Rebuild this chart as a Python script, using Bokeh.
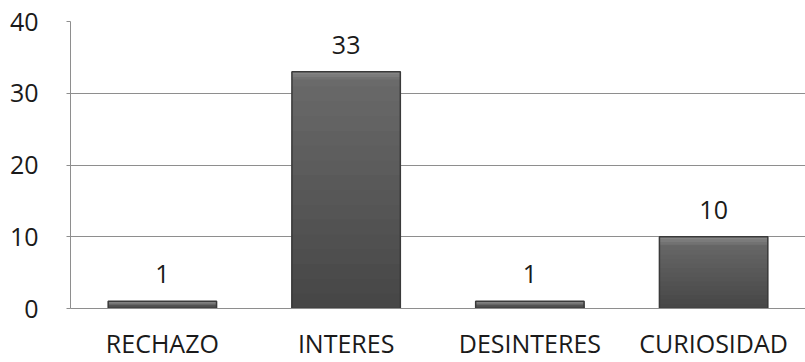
import numpy as np
from bokeh.plotting import figure
from bokeh.models import ColumnDataSource, FixedTicker, Range1d
from bokeh.embed import file_html
from bokeh.resources import INLINE
from bokeh.core.properties import value

categories = ["RECHAZO", "INTERES", "DESINTERES", "CURIOSIDAD"]
counts = [1, 33, 1, 10]
y_ticks = [0, 10, 20, 30, 40]

FONT = "Open Sans"
BAR_W = 0.59
FS = "25px"

p = figure(x_range=categories, y_range=Range1d(0, 40), width=805, height=362,
           output_backend="svg", toolbar_location=None,
           min_border_left=70, min_border_right=0, min_border_top=21, min_border_bottom=52)
p.outline_line_color = None
p.background_fill_color = "white"
p.x_range.range_padding = 0

# shaded bar bodies: nested bars, lightest/tallest first, darker/shorter on top
n_bands = 16
top_rgb = np.array([0x6a, 0x6a, 0x6a])
bot_rgb = np.array([0x47, 0x47, 0x47])
bx, bt, bc = [], [], []
for k in range(n_bands, 0, -1):
    f = (k - 1) / (n_bands - 1)
    rgb = (bot_rgb + (top_rgb - bot_rgb) * f).astype(int)
    for cat, n in zip(categories, counts):
        bx.append(cat)
        bt.append(n * k / n_bands)
        bc.append("#%02x%02x%02x" % tuple(rgb))
p.vbar(x=bx, bottom=0, top=bt, width=BAR_W, fill_color=bc, line_color=None)

# soft bevel along the top of each bar, fading into the body
bevel = [min(1.1, 0.45 * n) for n in counts]
for frac, col in [(1.0, "#727272"), (0.66, "#7b7b7b"), (0.33, "#858585")]:
    p.vbar(x=categories, bottom=[n - b * frac for n, b in zip(counts, bevel)], top=counts,
           width=BAR_W, fill_color=col, line_color=None)

# bar outline
src = ColumnDataSource(dict(cat=categories, n=counts, lbl=[str(c) for c in counts]))
p.vbar(x="cat", top="n", width=BAR_W, source=src, fill_color=None,
       line_color="#3a3a3a", line_width=1.5)

p.text(x="cat", y="n", text="lbl", source=src, text_align="center",
       text_baseline="middle", y_offset=-27, text_font=value(FONT),
       text_font_size=FS, text_color="#1a1a1a")

p.yaxis.ticker = FixedTicker(ticks=y_ticks)
p.ygrid.ticker = FixedTicker(ticks=y_ticks)
p.xgrid.grid_line_color = None
p.ygrid.grid_line_color = "#8e8e8e"
p.ygrid.grid_line_width = 1

for ax in (p.xaxis, p.yaxis):
    ax.axis_line_color = "#8e8e8e"
    ax.major_label_text_font = FONT
    ax.major_label_text_font_size = FS
    ax.major_label_text_color = "#1a1a1a"
    ax.minor_tick_line_color = None

p.yaxis.major_tick_line_color = "#8e8e8e"
p.yaxis.major_tick_out = 4
p.yaxis.major_tick_in = 0
p.yaxis.major_label_standoff = 28
p.xaxis.major_tick_line_color = None
p.xaxis.major_tick_out = 0
p.xaxis.major_label_standoff = 17

open("out.html", "w").write(file_html(p, INLINE))
